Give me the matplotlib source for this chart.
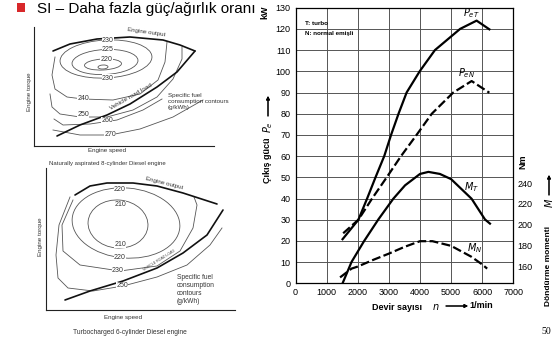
import matplotlib
matplotlib.use("Agg")
import matplotlib.pyplot as plt
from matplotlib.patches import Ellipse, Rectangle

plt.rcParams["font.family"] = ["Liberation Sans", "DejaVu Sans"]
plt.rcParams["mathtext.fontset"] = "dejavusans"

W, H = 557, 345

# ---- right chart: engine speed (1/min), power (kW), torque (Nm) ----
speed_ticks = [0, 1000, 2000, 3000, 4000, 5000, 6000, 7000]
power_ticks = [0, 10, 20, 30, 40, 50, 60, 70, 80, 90, 100, 110, 120, 130]
torque_ticks = [160, 180, 200, 220, 240]

pe_turbo_n = [1510, 2020, 2300, 2570, 2850, 3070, 3310, 3570, 3990, 4480, 5290, 5820, 6230]
pe_turbo_kw = [20.8, 30, 40, 50, 60, 70, 80, 90, 100, 110, 120, 123.9, 119.8]
pe_natural_n = [1530, 2020, 2460, 2930, 3390, 3890, 4380, 5070, 5660, 6230]
pe_natural_kw = [23.6, 30, 40, 50, 60, 70, 80, 90, 95.4, 89.9]
m_turbo_n = [1520, 1800, 2200, 2660, 3140, 3520, 4000, 4270, 4640, 5000, 5660, 6090, 6250]
m_turbo_nm = [144, 164, 184, 205, 225, 238, 249, 251, 249, 244, 225, 205, 201]
m_natural_n = [1430, 1800, 2000, 2500, 3000, 3500, 4000, 4400, 5000, 5650, 6000, 6160]
m_natural_nm = [149, 157.5, 159.5, 166, 172, 178.5, 184, 184, 179.5, 169, 161.5, 157.5]

# ---- top sketch: naturally aspirated engine (speed / torque, arbitrary units) ----
na_output_u = [19, 36, 63, 96, 129, 146, 161]
na_output_v = [95, 102, 107, 109, 106, 101, 95]
na_road_u = [23, 46, 73, 96, 123, 143, 161]
na_road_v = [10, 21, 31, 42, 59, 74, 95]
na_c240_u = [21, 18, 21, 33, 49, 79, 106, 124, 131, 133]
na_c240_v = [89, 71, 57, 49, 47, 46, 52, 66, 84, 104]
na_c250_u = [16, 18, 26, 46, 73, 99, 123, 139, 148, 148]
na_c250_v = [52, 39, 32, 29, 29, 36, 49, 67, 87, 99]
na_c260_u = [20, 29, 56, 83, 109, 128]
na_c260_v = [27, 21, 22, 26, 36, 47]
na_c270_u = [19, 46, 76, 106, 139, 169]
na_c270_v = [16, 11, 11, 17, 29, 46]
# closed islands: (centre u, centre v, width, height)
na_islands = [(69, 79, 10, 4), (69, 81.5, 37, 11), (71, 84, 66, 25), (72, 87, 92, 38)]

# ---- bottom sketch: turbocharged engine ----
tc_output_u = [29, 44, 61, 87, 111, 137, 171]
tc_output_v = [115, 124, 127, 127, 124, 117, 106]
tc_road_u = [19, 44, 77, 111, 137, 161, 177]
tc_road_v = [10, 19, 29, 42, 57, 75, 100]
tc_c230_u = [27, 16, 17, 34, 74, 111, 134, 147, 151, 148]
tc_c230_v = [110, 85, 59, 45, 39, 44, 59, 82, 105, 113]
tc_c250_u = [24, 13, 10, 12, 22, 47, 77, 111, 141, 164, 176]
tc_c250_v = [113, 85, 55, 32, 22, 19, 24, 33, 45, 65, 82]
tc_islands = [(72, 86, 60, 48), (80, 87, 108, 70)]


def px_axes(fig, x0, y0, x1, y1):
    return fig.add_axes([x0 / W, 1 - y1 / H, (x1 - x0) / W, (y1 - y0) / H])


def px_text(fig, x, y, s, **kw):
    return fig.text(x / W, 1 - y / H, s, **kw)


def px_arrow(fig, x0, y0, x1, y1):
    fig.add_artist(plt.annotate(
        "", xy=(x1 / W, 1 - y1 / H), xytext=(x0 / W, 1 - y0 / H),
        xycoords="figure fraction", textcoords="figure fraction",
        arrowprops=dict(arrowstyle="-|>", lw=0.8, color="black",
                        mutation_scale=5, shrinkA=0, shrinkB=0)))


def sketch_axes(fig, box, width, height):
    ax = px_axes(fig, *box)
    ax.set_xlim(0, width)
    ax.set_ylim(0, height)
    ax.spines["top"].set_visible(False)
    ax.spines["right"].set_visible(False)
    for s in ("left", "bottom"):
        ax.spines[s].set_linewidth(0.8)
        ax.spines[s].set_color("#222")
    ax.set_xticks([])
    ax.set_yticks([])
    ax.patch.set_alpha(0)
    return ax


def contour_label(ax, u, v, s, size=5):
    ax.text(u, v, s, ha="center", va="center", fontsize=size, color="#333",
            bbox=dict(fc="white", ec="none", pad=0.2), zorder=5)


thin = dict(color="#555", lw=0.6)
thick = dict(color="#111", lw=1.2, solid_capstyle="round")
small = dict(fontsize=4.5, color="#333")

fig = plt.figure(figsize=(W / 100, H / 100), dpi=100)

# slide title
fig.add_artist(Rectangle((17 / W, 1 - 12 / H), 8 / W, 9 / H,
                         transform=fig.transFigure, fc="#d8282a", ec="none"))
px_text(fig, 37, 12.7, "SI – Daha fazla güç/ağırlık oranı", fontsize=11, va="baseline")
px_text(fig, 546.7, 331.7, "50", fontsize=7, family="Liberation Serif",
        ha="center", va="center")

# ---- top sketch ----
ax1 = sketch_axes(fig, (34, 27, 214, 146), 180, 119)
for w in na_islands:
    ax1.add_patch(Ellipse((w[0], w[1]), w[2], w[3], angle=3, fill=False, **thin))
ax1.plot(na_c240_u, na_c240_v, **thin)
ax1.plot(na_c250_u, na_c250_v, **thin)
ax1.plot(na_c260_u, na_c260_v, **thin)
ax1.plot(na_c270_u, na_c270_v, **thin)
ax1.plot(na_output_u, na_output_v, **thick)
ax1.plot(na_road_u, na_road_v, **thick)
for u, v, s in [(74, 105, "230"), (74, 96.3, "225"), (72.7, 86.7, "220"),
                (74, 68, "230"), (49, 48, "240"), (49, 31, "250"),
                (73, 25.5, "260"), (76, 11.3, "270")]:
    contour_label(ax1, u, v, s)
ax1.text(112, 114, "Engine output", rotation=-8, ha="center", va="center", **small)
ax1.text(97, 49, "Vehicle road load", rotation=30, ha="center", va="center", **small)
ax1.text(134, 44, "Specific fuel\nconsumption contours\n(g/kWh)", ha="left", va="center",
         linespacing=1.25, clip_on=False, **small)
ax1.text(-5, 54, "Engine torque", rotation=90, ha="center", va="center", **small)
ax1.text(73, -5, "Engine speed", ha="center", va="center", **small)
ax1.text(73, -18, "Naturally aspirated 8-cylinder Diesel engine", ha="center",
         va="center", fontsize=4.3, color="#333")

# ---- bottom sketch ----
ax3 = sketch_axes(fig, (46, 168, 235, 310), 189, 142)
for w in tc_islands:
    ax3.add_patch(Ellipse((w[0], w[1]), w[2], w[3], angle=-5, fill=False, **thin))
ax3.plot(tc_c230_u, tc_c230_v, **thin)
ax3.plot(tc_c250_u, tc_c250_v, **thin)
ax3.plot(tc_output_u, tc_output_v, **thick)
ax3.plot(tc_road_u, tc_road_v, **thick)
for u, v, s in [(74, 121, "220"), (74, 105.3, "210"), (74, 66, "210"),
                (74, 52.7, "220"), (72, 39, "230"), (76, 24.7, "250")]:
    contour_label(ax3, u, v, s)
ax3.text(118, 127, "Engine output", rotation=-14, ha="center", va="center", **small)
ax3.text(113, 50, "VEHICLE ROAD LOAD", rotation=32, ha="center", va="center",
         fontsize=2.6, color="#444")
ax3.text(131, 20.5, "Specific fuel\nconsumption\ncontours\n(g/kWh)", ha="left",
         va="center", linespacing=1.25, fontsize=4.8, color="#333")
ax3.text(-6, 73, "Engine torque", rotation=90, ha="center", va="center", **small)
ax3.text(77, -8, "Engine speed", ha="center", va="center", **small)
ax3.text(84, -22, "Turbocharged 6-cylinder Diesel engine", ha="center", va="center",
         fontsize=4.8, color="#333")

# ---- right chart ----
ax = px_axes(fig, 295.6, 7.7, 513.3, 283.3)
ax.set_xlim(0, 7000)
ax.set_ylim(0, 130)
ax.set_xticks(speed_ticks)
ax.set_yticks(power_ticks)
ax.grid(True, color="#555", lw=0.7)
ax.set_axisbelow(True)
ax.tick_params(length=0, pad=3.5, labelsize=6.5)
for s in ax.spines.values():
    s.set_linewidth(0.9)

ax2 = ax.twinx()
ax2.set_ylim(143.3, 409.7)
ax2.set_yticks(torque_ticks)
ax2.tick_params(length=0, pad=3, labelsize=6.5)
for s in ax2.spines.values():
    s.set_visible(False)

ax.plot(pe_turbo_n, pe_turbo_kw, color="black", lw=1.6)
ax.plot(pe_natural_n, pe_natural_kw, color="black", lw=1.6, dashes=(4, 1.5))
ax2.plot(m_turbo_n, m_turbo_nm, color="black", lw=1.6)
ax2.plot(m_natural_n, m_natural_nm, color="black", lw=1.6, dashes=(4, 1.5))

ax.text(5660, 127.6, r"$P_{eT}$", fontsize=7, ha="center", va="center")
ax.text(5500, 99.3, r"$P_{eN}$", fontsize=7, ha="center", va="center")
ax2.text(5660, 236.7, r"$M_T$", fontsize=7, ha="center", va="center")
ax2.text(5770, 177, r"$M_N$", fontsize=7, ha="center", va="center")
ax.text(300, 122.6, "T: turbo", fontsize=4.5, weight="bold", va="center")
ax.text(300, 118, "N: normal emişli", fontsize=4.5, weight="bold", va="center")

# axis titles
px_text(fig, 265, 12, "kW", rotation=90, fontsize=6.5, weight="bold", ha="center", va="center")
px_text(fig, 268, 160, "Çıkış gücü", rotation=90, fontsize=6.5, weight="bold",
        ha="center", va="center")
px_text(fig, 268, 127, r"$P_e$", rotation=90, fontsize=7, ha="center", va="center")
px_arrow(fig, 268, 116, 268, 96)
px_text(fig, 397.5, 307, "Devir sayısı", fontsize=6.5, weight="bold", ha="center", va="center")
px_text(fig, 436, 307, r"$n$", fontsize=7, ha="center", va="center")
px_arrow(fig, 446, 306, 468, 306)
px_text(fig, 481, 306, "1/min", fontsize=6.5, weight="bold", ha="center", va="center")
px_text(fig, 523, 162, "Nm", rotation=90, fontsize=6.5, weight="bold", ha="center", va="center")
px_text(fig, 549, 266, "Döndürme momenti", rotation=90, fontsize=6, weight="bold",
        ha="center", va="center")
px_text(fig, 549, 203, r"$M$", rotation=90, fontsize=7, ha="center", va="center")
px_arrow(fig, 549, 195, 549, 175)

fig.savefig("out.png", dpi=100)
